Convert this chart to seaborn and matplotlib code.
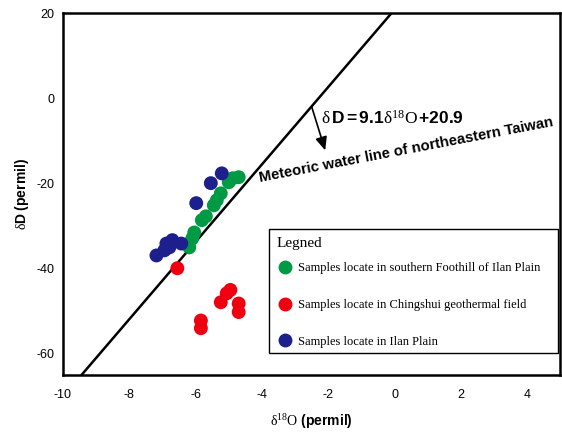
import matplotlib
matplotlib.use("Agg")
import matplotlib.pyplot as plt
from matplotlib.patches import Rectangle
import seaborn as sns
import numpy as np
import pandas as pd

# ---- data ----
green_x = [-4.88, -4.70, -5.00, -5.24, -5.36, -5.45, -5.69, -5.81, -6.04, -6.10, -6.19]
green_y = [-18.75, -18.5, -19.7, -22.3, -23.9, -25.1, -27.7, -28.6, -31.5, -32.9, -35.0]
red_x = [-5.06, -4.95, -5.24, -4.70, -4.70, -5.84, -5.84, -6.55]
red_y = [-45.8, -45.0, -47.9, -48.2, -50.2, -52.2, -54.0, -39.9]
blue_x = [-5.21, -5.54, -5.98, -6.88, -6.70, -6.43, -6.94, -6.79, -7.18]
blue_y = [-17.6, -19.9, -24.6, -34.1, -33.3, -34.1, -35.7, -35.0, -36.9]
labels = ["Samples locate in southern Foothill of Ilan Plain",
          "Samples locate in Chingshui geothermal field",
          "Samples locate in Ilan Plain"]
colors = ["#009a44", "#ee0010", "#1c1f8c"]
slope, intercept = 9.1, 20.9
xticks = [-10, -8, -6, -4, -2, 0, 2, 4]
yticks = [-60, -40, -20, 0, 20]

df = pd.DataFrame({
    "x": green_x + red_x + blue_x,
    "y": green_y + red_y + blue_y,
    "group": [labels[0]] * len(green_x) + [labels[1]] * len(red_x) + [labels[2]] * len(blue_x),
})

sns.set_style("white")
plt.rcParams["font.family"] = ["Liberation Sans", "DejaVu Sans"]
plt.rcParams["axes.unicode_minus"] = False
plt.rcParams["text.color"] = "black"
plt.rcParams["axes.labelcolor"] = "black"
plt.rcParams["xtick.color"] = "black"
plt.rcParams["ytick.color"] = "black"
plt.rcParams["mathtext.fontset"] = "custom"
plt.rcParams["mathtext.rm"] = "Liberation Serif"
plt.rcParams["mathtext.bf"] = "Liberation Sans:bold"
plt.rcParams["mathtext.it"] = "Liberation Serif:italic"

fig = plt.figure(figsize=(5.62, 4.34), dpi=100)
ax = fig.add_axes([0.112, 0.136, 0.885, 0.833])

# meteoric water line
lx = np.array([-10.0, 5.0])
ax.plot(lx, slope * lx + intercept, color="black", lw=1.8, zorder=1)

sns.scatterplot(data=df, x="x", y="y", hue="group", palette=colors,
                hue_order=labels, s=100, edgecolor="none", linewidth=0, ax=ax, zorder=3)

ax.set_xlim(-10, 5)
ax.set_ylim(-65, 20)
ax.set_xticks(xticks)
ax.set_yticks(yticks)
ax.tick_params(direction="in", length=4, width=1, labelsize=9, colors="black", pad=10)
ax.tick_params(axis="y", pad=6)
for s in ax.spines.values():
    s.set_visible(True)
    s.set_color("black")
    s.set_linewidth(1.8)

ax.set_xlabel(r"$\mathrm{\delta^{18}O}$ $\mathbf{(permil)}$", fontsize=10, labelpad=8)
ax.set_ylabel(r"$\mathrm{\delta}\mathbf{D\ (permil)}$", fontsize=10, labelpad=4)

ax.text(-2.22, -4.6, r"$\mathrm{\delta}\,\mathbf{D=9.1}\mathrm{\delta^{18}O}\,\mathbf{+20.9}$",
        fontsize=12.5, ha="left", va="center")
ax.annotate("", xy=(-2.09, -12.2), xytext=(-2.5, -1.9),
            arrowprops=dict(arrowstyle="-|>,head_length=0.8,head_width=0.35",
                            color="black", lw=1.2, shrinkA=0, shrinkB=0))
ax.text(-4.05, -19.6, "Meteoric water line of northeastern Taiwan", fontsize=10.7,
        fontweight="bold", rotation=10.8, rotation_mode="anchor", ha="left", va="baseline")

# legend: frame, title, entries
ax.add_patch(Rectangle((0.4144, 0.0609), 0.581, 0.343, transform=ax.transAxes,
                       facecolor="white", edgecolor="black", lw=1.0, zorder=4))
ax.text(0.4304, 0.365, "Legned", transform=ax.transAxes, family="Liberation Serif",
        fontsize=11, ha="left", va="center", zorder=5)
leg = ax.legend(loc="center left", bbox_to_anchor=(0.4317, 0.1935),
                frameon=False, prop={"family": "Liberation Serif", "size": 9},
                labelspacing=1.97, handletextpad=0.45, handlelength=1.2, borderpad=0,
                markerscale=1.0, borderaxespad=0)
leg.set_zorder(6)

fig.savefig("out.png", dpi=100)
